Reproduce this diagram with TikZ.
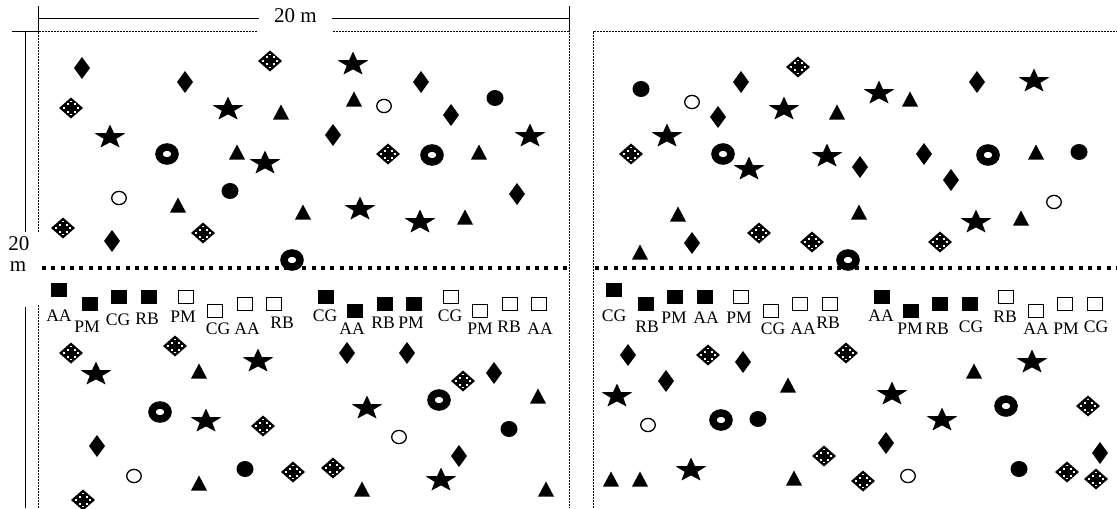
\documentclass[tikz,border=0pt]{standalone}
\usepackage{fontspec}
\setmainfont{Liberation Serif}
\usetikzlibrary{positioning}
\tikzset{
  pics/diam/.style={code={\fill (0,-11) -- (8,0) -- (0,11) -- (-8,0) -- cycle;}},
  pics/xdiam/.style={code={
    \fill (0,-10.5) -- (12,0) -- (0,10.5) -- (-12,0) -- cycle;
    \foreach \dx/\dy in {3.5/3.5,3.5/-3.5,-3.5/3.5,-3.5/-3.5}
      \fill[white] (\dx-1,\dy-1) rectangle +(2,2);
    \foreach \dx/\dy in {0/6.5,0/-6.5,7/0,-7/0}
      \fill[white] (\dx-0.8,\dy-0.8) rectangle +(1.6,1.6);}},
  pics/startree/.style={code={
    \fill[shift={(0,1.2)}, xscale=1.28] (-90:12.7)
      \foreach \k in {0,...,4}{ -- ({-54+72*\k}:5.2) -- ({-18+72*\k}:12.7)} -- cycle;}},
  pics/tri/.style={code={\fill (-8,7.5) -- (8,7.5) -- (0,-7.5) -- cycle;}},
  pics/dot/.style={code={\fill (0,0) ellipse [x radius=8.5, y radius=8];}},
  pics/odot/.style={code={\draw[line width=0.65pt] (0,0) ellipse [x radius=7.3, y radius=6.6];}},
  pics/ring/.style={code={\draw[line width=3.75pt] (0,0) ellipse [x radius=8, y radius=7];}},
  edge dots/.style={line width=0.5pt, dash pattern=on 1pt off 0.5pt},
  divider/.style={line width=1.9pt, dash pattern=on 2pt off 2.65pt},
  dimline/.style={line width=0.5pt},
  sqfill/.style={rectangle, fill=black, minimum width=8pt, minimum height=7pt, inner sep=0pt},
  sqopen/.style={rectangle, draw, line width=0.6pt, minimum width=7.4pt, minimum height=6.4pt, inner sep=0pt},
  sqlabel/.style={inner sep=0pt, font=\fontsize{8.8}{10}\selectfont},
  dimlabel/.style={inner sep=0pt, font=\fontsize{10.5}{12}\selectfont}
}
\begin{document}
\begin{tikzpicture}[x=0.5pt, y=-0.5pt]
  \useasboundingbox (0,0) rectangle (1117,508);

  % 20 m x 20 m plots
  \coordinate (topL) at (38,19);
  \coordinate (topR) at (569,19);
  \node[dimlabel, inner xsep=7.5pt] (dimtop) at (295.5,16) {20 m};
  \draw[dimline] (topL) -- (dimtop.west |- topL) (dimtop.east |- topR) -- (topR);
  \draw[dimline] (38,6) -- (38,32) (569,6) -- (569,32);
  \node[dimlabel] (dimside) at (19,244) {20};
  \node[dimlabel] (dimsidem) at (18,267) {m};
  \draw[dimline] (12,32) -- (38,32) (25,32) -- (25,232) (25,307) -- (25,508);

  \draw[edge dots] (38,232) -- (38,32) -- (258,32) (333,32) -- (569,32) -- (569,508);
  \draw[edge dots] (38,305) -- (38,508);
  \draw[edge dots] (593,508) -- (593,32) -- (1117,32);
  \draw[divider] (42,268) -- (569,268) (595,268) -- (1117,268);

  % trees
  \foreach \x/\y in {82/68, 185/82, 112/241, 333/135, 421/82, 451/115, 517/194,
      741/82, 718/117, 692/243, 860/167, 924/154, 977/82, 951/180,
      97/446, 347/353, 407/353, 494/373, 459/456,
      628/355, 743/362, 666/381, 886/443, 1100/453}
    \pic at (\x,\y) {diam};
  \foreach \x/\y in {71/108, 63/228, 270/61, 203/233, 388/154,
      631/154, 759/233, 798/67, 812/242, 940/242,
      71/353, 175/346, 83/500, 263/426, 293/472, 333/468, 463/381,
      708/355, 846/353, 824/456, 863/481, 1088/406, 1067/472, 1096/479}
    \pic at (\x,\y) {xdiam};
  \foreach \x/\y in {110/136, 228/108, 353/63, 265/162, 360/208, 530/135, 420/221,
      667/135, 749/168, 784/108, 879/92, 827/155, 1034/80, 976/221,
      96/373, 258/360, 206/420, 367/407, 441/479,
      617/395, 691/469, 892/393, 942/419, 1032/361}
    \pic at (\x,\y) {startree};
  \foreach \x/\y in {167/154, 292/260, 432/155, 723/154, 848/260, 988/155,
      160/412, 439/400, 721/420, 1006/406}
    \pic at (\x,\y) {ring};
  \foreach \x/\y in {119/198, 384/106, 692/102, 1054/202, 134/476, 399/437, 648/425, 908/476}
    \pic at (\x,\y) {odot};
  \foreach \x/\y in {230/191, 495/98, 641/89, 1079/152, 245/469, 509/429, 758/419, 1019/469}
    \pic at (\x,\y) {dot};
  \foreach \x/\y in {178/205, 281/112, 354/99, 237/152, 303/212, 479/152, 465/217,
      678/214, 640/252, 837/112, 910/99, 859/212, 1036/152, 1021/218,
      199/371, 199/483, 362/489, 538/396, 546/489,
      611/479, 640/479, 788/385, 794/478, 974/371}
    \pic at (\x,\y) {tri};

  % seedling plots
  \foreach \x/\y/\s/\t/\lx/\ly [count=\i] in {
      59/290/sqfill/AA/59/316, 90/304/sqfill/PM/87/327, 119/297/sqfill/CG/118/320,
      149/297/sqfill/RB/147/319, 186/297/sqopen/PM/183/317, 215/311/sqopen/CG/218/329,
      245/304/sqopen/AA/247/329, 274/304/sqopen/RB/282/323, 326/297/sqfill/CG/325/316,
      355/311/sqfill/AA/352/329, 385/304/sqfill/RB/383/323, 414/304/sqfill/PM/411/323,
      451/297/sqopen/CG/450/316, 480/311/sqopen/PM/480/329, 510/304/sqopen/RB/509/327,
      539/304/sqopen/AA/540/329,
      614/290/sqfill/CG/614/316, 646/304/sqfill/RB/647/327, 675/297/sqfill/PM/674/318,
      705/297/sqfill/AA/706/318, 741/297/sqopen/PM/739/318, 771/311/sqopen/CG/773/329,
      800/304/sqopen/AA/803/329, 830/304/sqopen/RB/828/323, 882/297/sqfill/AA/881/316,
      911/311/sqfill/PM/910/329, 940/304/sqfill/RB/937/329, 970/304/sqfill/CG/971/327,
      1006/297/sqopen/RB/1005/317, 1036/311/sqopen/AA/1036/329, 1065/304/sqopen/PM/1066/329,
      1095/304/sqopen/CG/1096/327} {
    \node[\s] (sq\i) at (\x,\y) {};
    \node[sqlabel] (lab\i) at (\lx,\ly) {\t};
  }
\end{tikzpicture}
\end{document}
